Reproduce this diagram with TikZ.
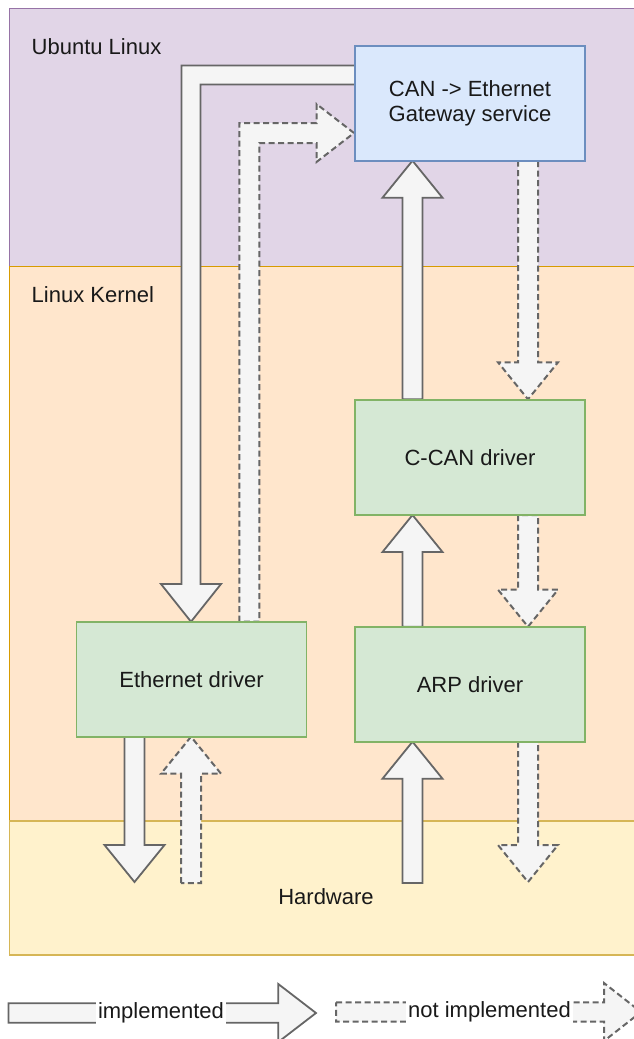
\documentclass[tikz,border=0pt]{standalone}
\usepackage{fontspec}
\setmainfont{Liberation Sans}
\definecolor{ubfill}{HTML}{E1D5E7}
\definecolor{ubline}{HTML}{9673A6}
\definecolor{kefill}{HTML}{FFE6CC}
\definecolor{keline}{HTML}{D79B00}
\definecolor{hwfill}{HTML}{FFF2CC}
\definecolor{hwline}{HTML}{D6B656}
\definecolor{gwfill}{HTML}{DAE8FC}
\definecolor{gwline}{HTML}{6C8EBF}
\definecolor{drfill}{HTML}{D5E8D4}
\definecolor{drline}{HTML}{82B366}
\definecolor{arfill}{HTML}{F5F5F5}
\definecolor{arline}{HTML}{666666}
\tikzset{
  txt/.style={font=\fontsize{22}{25}\selectfont, text=black!90, inner sep=0pt, align=center},
  layer/.style={line width=1.8pt, anchor=north west, inner sep=0pt},
  box/.style={draw=drline, fill=drfill, line width=1.8pt, minimum width=230pt, minimum height=115pt, txt},
  solidarrow/.style={draw=arline, fill=arfill, line width=1.8pt, line join=miter},
  dasharrow/.style={draw=arline, fill=arfill, line width=2pt, dash pattern=on 6pt off 3.5pt},
}
% vertical block arrow: x center, y tail, y tip
\newcommand\blockv[4][]{%
  \pgfmathsetmacro\dirv{(#4>#3)?1:-1}%
  \pgfmathsetmacro\hb{#4-37*\dirv}%
  \draw[#1] (#2-10,#3) -- (#2-10,\hb) -- (#2-30,\hb) -- (#2,#4) -- (#2+30,\hb) -- (#2+10,\hb) -- (#2+10,#3) -- cycle;
}
\begin{document}
\begin{tikzpicture}[x=1pt,y=-1pt]
\useasboundingbox (0,0) rectangle (634,1039);
% layers
\node[layer, draw=ubline, fill=ubfill, minimum width=700pt, minimum height=258pt] (ubuntu) at (8.5,7.5) {};
\node[layer, draw=keline, fill=kefill, minimum width=700pt, minimum height=554.5pt] (kernel) at (8.5,265.5) {};
\node[layer, draw=hwline, fill=hwfill, minimum width=700pt, minimum height=134pt] (hardware) at (8.5,820) {};
\node[txt, anchor=west] (tubuntu) at (31.5,47) {Ubuntu Linux};
\node[txt, anchor=west] (tkernel) at (31.5,295) {Linux Kernel};
\node[txt] (thw) at (326,897) {Hardware};

% arrows (drawn before boxes)
% solid L: gateway -> ethernet driver
\draw[solidarrow] (356,65.5) -- (181.5,65.5) -- (181.5,584) -- (161,584) -- (191,621.7) -- (221,584) -- (200.5,584) -- (200.5,84.5) -- (356,84.5) -- cycle;
% dashed L: ethernet driver -> gateway
\draw[dasharrow] (239.3,621.7) -- (239.3,123) -- (316.5,123) -- (316.5,104) -- (354,133) -- (316.5,162) -- (316.5,143) -- (259.3,143) -- (259.3,621.7) -- cycle;

\blockv[solidarrow]{412.5}{399.3}{160.7}
\blockv[dasharrow]{528}{160.7}{399.3}
\blockv[solidarrow]{412.5}{626.7}{515}
\blockv[dasharrow]{528}{515}{626.7}
\blockv[solidarrow]{412.5}{883}{741.7}
\blockv[dasharrow]{528}{741.7}{882}
\blockv[solidarrow]{134.5}{736.7}{882}
\blockv[dasharrow]{191}{883}{736.7}

% boxes
\node[box, draw=gwline, fill=gwfill] (gw) at (470,103.5) {CAN -> Ethernet\\Gateway service};
\node[box] (ccan) at (470,457.3) {C-CAN driver};
\node[box] (arp) at (470,684.2) {ARP driver};
\node[box] (eth) at (191.5,679.2) {Ethernet driver};

% legend
\draw[solidarrow] (8.5,1003.3) -- (278.3,1003.3) -- (278.3,984) -- (316,1013) -- (278.3,1042) -- (278.3,1022.7) -- (8.5,1022.7) -- cycle;
\node[txt, fill=white, inner xsep=2pt, inner ysep=1pt] (limpl) at (161,1013) {implemented};
\draw[dasharrow] (336,1002.3) -- (604,1002.3) -- (604,983) -- (641,1012) -- (604,1041) -- (604,1021.7) -- (336,1021.7) -- cycle;
\node[txt, fill=white, inner xsep=2pt, inner ysep=1pt] (lnot) at (489.5,1012) {not implemented};
\end{tikzpicture}
\end{document}
